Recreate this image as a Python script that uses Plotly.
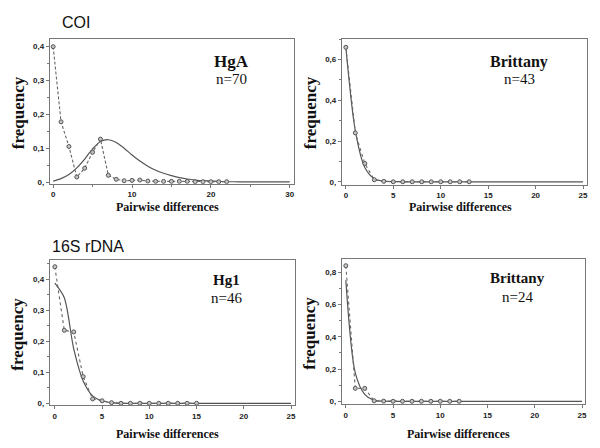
import plotly.graph_objects as go

# ---------------- data ----------------
# Panel A: COI, HgA n=70
coi_hga_obs_x = list(range(0, 23))
coi_hga_obs_y = [0.40, 0.178, 0.105, 0.015, 0.041, 0.088, 0.127, 0.020, 0.008, 0.004,
                 0.005, 0.006, 0.003, 0.002, 0.002, 0.002, 0.002, 0.002, 0.001, 0.001,
                 0.001, 0.001, 0.001]
coi_hga_exp_x = list(range(0, 31))
coi_hga_exp_y = [0.003, 0.010, 0.022, 0.042, 0.068, 0.098, 0.120, 0.125, 0.117, 0.100,
                 0.080, 0.062, 0.047, 0.035, 0.026, 0.019, 0.013, 0.009, 0.006, 0.004,
                 0.003, 0.002, 0.001, 0.001, 0.0005, 0.0005, 0.0005, 0.0005, 0.0005, 0.0005,
                 0.0005]

# Panel B: COI, Brittany n=43
coi_bri_obs_x = list(range(0, 14))
coi_bri_obs_y = [0.66, 0.24, 0.09, 0.01, 0.002, 0, 0, 0, 0, 0, 0, 0, 0, 0]
coi_bri_exp_x = list(range(0, 26))
coi_bri_exp_y = [0.66, 0.25, 0.07, 0.015, 0.003, 0.001] + [0] * 20

# Panel C: 16S rDNA, Hg1 n=46
s16_hg1_obs_x = list(range(0, 16))
s16_hg1_obs_y = [0.44, 0.235, 0.23, 0.086, 0.014, 0.008, 0.002, 0, 0, 0, 0, 0, 0, 0, 0, 0]
s16_hg1_exp_x = list(range(0, 26))
s16_hg1_exp_y = [0.387, 0.34, 0.175, 0.072, 0.024, 0.008, 0.002] + [0] * 19

# Panel D: 16S rDNA, Brittany n=24
s16_bri_obs_x = list(range(0, 13))
s16_bri_obs_y = [0.84, 0.08, 0.08, 0.003, 0.001, 0, 0, 0, 0, 0, 0, 0, 0]
s16_bri_exp_x = list(range(0, 26))
s16_bri_exp_y = [0.75, 0.176, 0.043, 0.006, 0.001] + [0] * 21

# tick labels
yt_a = [0, 0.1, 0.2, 0.3, 0.4]
yt_a_text = ["0,", "0,1", "0,2", "0,3", "0,4"]
yt_b = [0, 0.2, 0.4, 0.6]
yt_b_text = ["0,", "0,2", "0,4", "0,6"]
yt_c = [0, 0.1, 0.2, 0.3, 0.4]
yt_c_text = ["0,", "0,1", "0,2", "0,3", "0,4"]
yt_d = [0, 0.2, 0.4, 0.6, 0.8]
yt_d_text = ["0,", "0,2", "0,4", "0,6", "0,8"]

panel_names = ["HgA", "Brittany", "Hg1", "Brittany"]
panel_n = ["n=70", "n=43", "n=46", "n=24"]
group_titles = ["COI", "16S rDNA"]

# ---------------- figure ----------------
fig = go.Figure()

panels = [
    dict(ox=coi_hga_obs_x, oy=coi_hga_obs_y, ex=coi_hga_exp_x, ey=coi_hga_exp_y, dash="3px,2px",
         xd=[50/600, 295/600], yd=[1-185/448, 1-39/448], xr=[-0.42, 30.54], yr=[-0.005, 0.4234],
         xt=[0, 10, 20, 30], xminor=5, yt=yt_a, ytt=yt_a_text, yminor=0.05),
    dict(ox=coi_bri_obs_x, oy=coi_bri_obs_y, ex=coi_bri_exp_x, ey=coi_bri_exp_y, dash="dot",
         xd=[343/600, 589/600], yd=[1-186/448, 1-39/448], xr=[-0.42, 25.42], yr=[-0.0146, 0.702],
         xt=[0, 5, 10, 15, 20, 25], xminor=None, yt=yt_b, ytt=yt_b_text, yminor=0.1),
    dict(ox=s16_hg1_obs_x, oy=s16_hg1_obs_y, ex=s16_hg1_exp_x, ey=s16_hg1_exp_y, dash="dot",
         xd=[50/600, 296/600], yd=[1-408/448, 1-262/448], xr=[-0.53, 25.42], yr=[-0.0064, 0.4608],
         xt=[0, 5, 10, 15, 20, 25], xminor=None, yt=yt_c, ytt=yt_c_text, yminor=0.05),
    dict(ox=s16_bri_obs_x, oy=s16_bri_obs_y, ex=s16_bri_exp_x, ey=s16_bri_exp_y, dash="dot",
         xd=[343/600, 587/600], yd=[1-407/448, 1-261/448], xr=[-0.42, 25.32], yr=[-0.0185, 0.88],
         xt=[0, 5, 10, 15, 20, 25], xminor=None, yt=yt_d, ytt=yt_d_text, yminor=0.1),
]

tickfont = dict(family="Liberation Sans", size=8, color="#222", weight="bold")
layout = {}
for i, p in enumerate(panels):
    k = "" if i == 0 else str(i + 1)
    xa, ya = "x" + k, "y" + k
    fig.add_trace(go.Scatter(x=p["ex"], y=p["ey"], mode="lines", xaxis=xa, yaxis=ya,
                             line=dict(color="#555", width=1.2, shape="spline", smoothing=0.8),
                             showlegend=False, hoverinfo="skip"))
    fig.add_trace(go.Scatter(x=p["ox"], y=p["oy"], mode="lines+markers", xaxis=xa, yaxis=ya,
                             line=dict(color="#666", width=1.1, dash=p["dash"]),
                             marker=dict(symbol="circle", size=4, color="#c4c4c4",
                                         line=dict(color="#555", width=1)),
                             showlegend=False))
    xax = dict(domain=p["xd"], range=p["xr"], anchor=ya, showline=True, mirror=True,
               linecolor="#777", linewidth=1, showgrid=False, zeroline=False,
               ticks="outside", ticklen=3, tickcolor="#777", tickmode="array", tickvals=p["xt"],
               tickfont=tickfont)
    if p["xminor"]:
        xax["minor"] = dict(tickmode="linear", tick0=0, dtick=p["xminor"], ticks="outside",
                            ticklen=2, tickcolor="#777", showgrid=False)
    yax = dict(domain=p["yd"], range=p["yr"], anchor=xa, showline=True, mirror=True,
               linecolor="#777", linewidth=1, showgrid=False, zeroline=False,
               ticks="outside", ticklen=3, tickcolor="#777", tickmode="array",
               tickvals=p["yt"], ticktext=p["ytt"], tickfont=tickfont,
               minor=dict(tickmode="linear", tick0=0, dtick=p["yminor"], ticks="outside",
                          ticklen=2, tickcolor="#777", showgrid=False))
    layout["xaxis" + k] = xax
    layout["yaxis" + k] = yax

fig.update_layout(**layout)

serif = "Liberation Serif"
ann = []
# panel name / n labels
name_pos = [(232, 62, 80, 17), (521, 62, 80, 16), (227, 282, 300, 15), (519, 280, 299, 15)]
for (cx, y1, y2, fs), nm, nn in zip(name_pos, panel_names, panel_n):
    ann.append(dict(x=cx/600, y=1-y1/448, xref="paper", yref="paper", text="<b>" + nm + "</b>",
                    showarrow=False, font=dict(family=serif, size=fs, color="#111"),
                    xanchor="center", yanchor="middle"))
    ann.append(dict(x=cx/600, y=1-y2/448, xref="paper", yref="paper", text=nn,
                    showarrow=False, font=dict(family=serif, size=15, color="#111"),
                    xanchor="center", yanchor="middle"))
# x axis titles
for cx, cy in [(168, 208), (462, 208), (168, 437), (460, 437)]:
    ann.append(dict(x=cx/600, y=1-cy/448, xref="paper", yref="paper",
                    text="<b>Pairwise differences</b>", showarrow=False,
                    font=dict(family=serif, size=12, color="#111"),
                    xanchor="center", yanchor="middle"))
# y axis titles
for cx, cy in [(18, 113), (311, 113), (18, 336), (311, 335)]:
    ann.append(dict(x=cx/600, y=1-cy/448, xref="paper", yref="paper",
                    text="<b>frequency</b>", showarrow=False, textangle=-90,
                    font=dict(family=serif, size=17, color="#111"),
                    xanchor="center", yanchor="middle"))
# group titles
for (lx, cy), t in zip([(60, 23), (50, 248)], group_titles):
    ann.append(dict(x=lx/600, y=1-cy/448, xref="paper", yref="paper", text=t,
                    showarrow=False, font=dict(family="Liberation Sans", size=16, color="#111"),
                    xanchor="left", yanchor="middle"))

fig.update_layout(annotations=ann, width=600, height=448,
                  margin=dict(l=0, r=0, t=0, b=0),
                  paper_bgcolor="white", plot_bgcolor="white")

fig.write_html("out.html", config={"displayModeBar": False},
               post_script="document.body.style.margin='0px';document.body.style.padding='0px';")
